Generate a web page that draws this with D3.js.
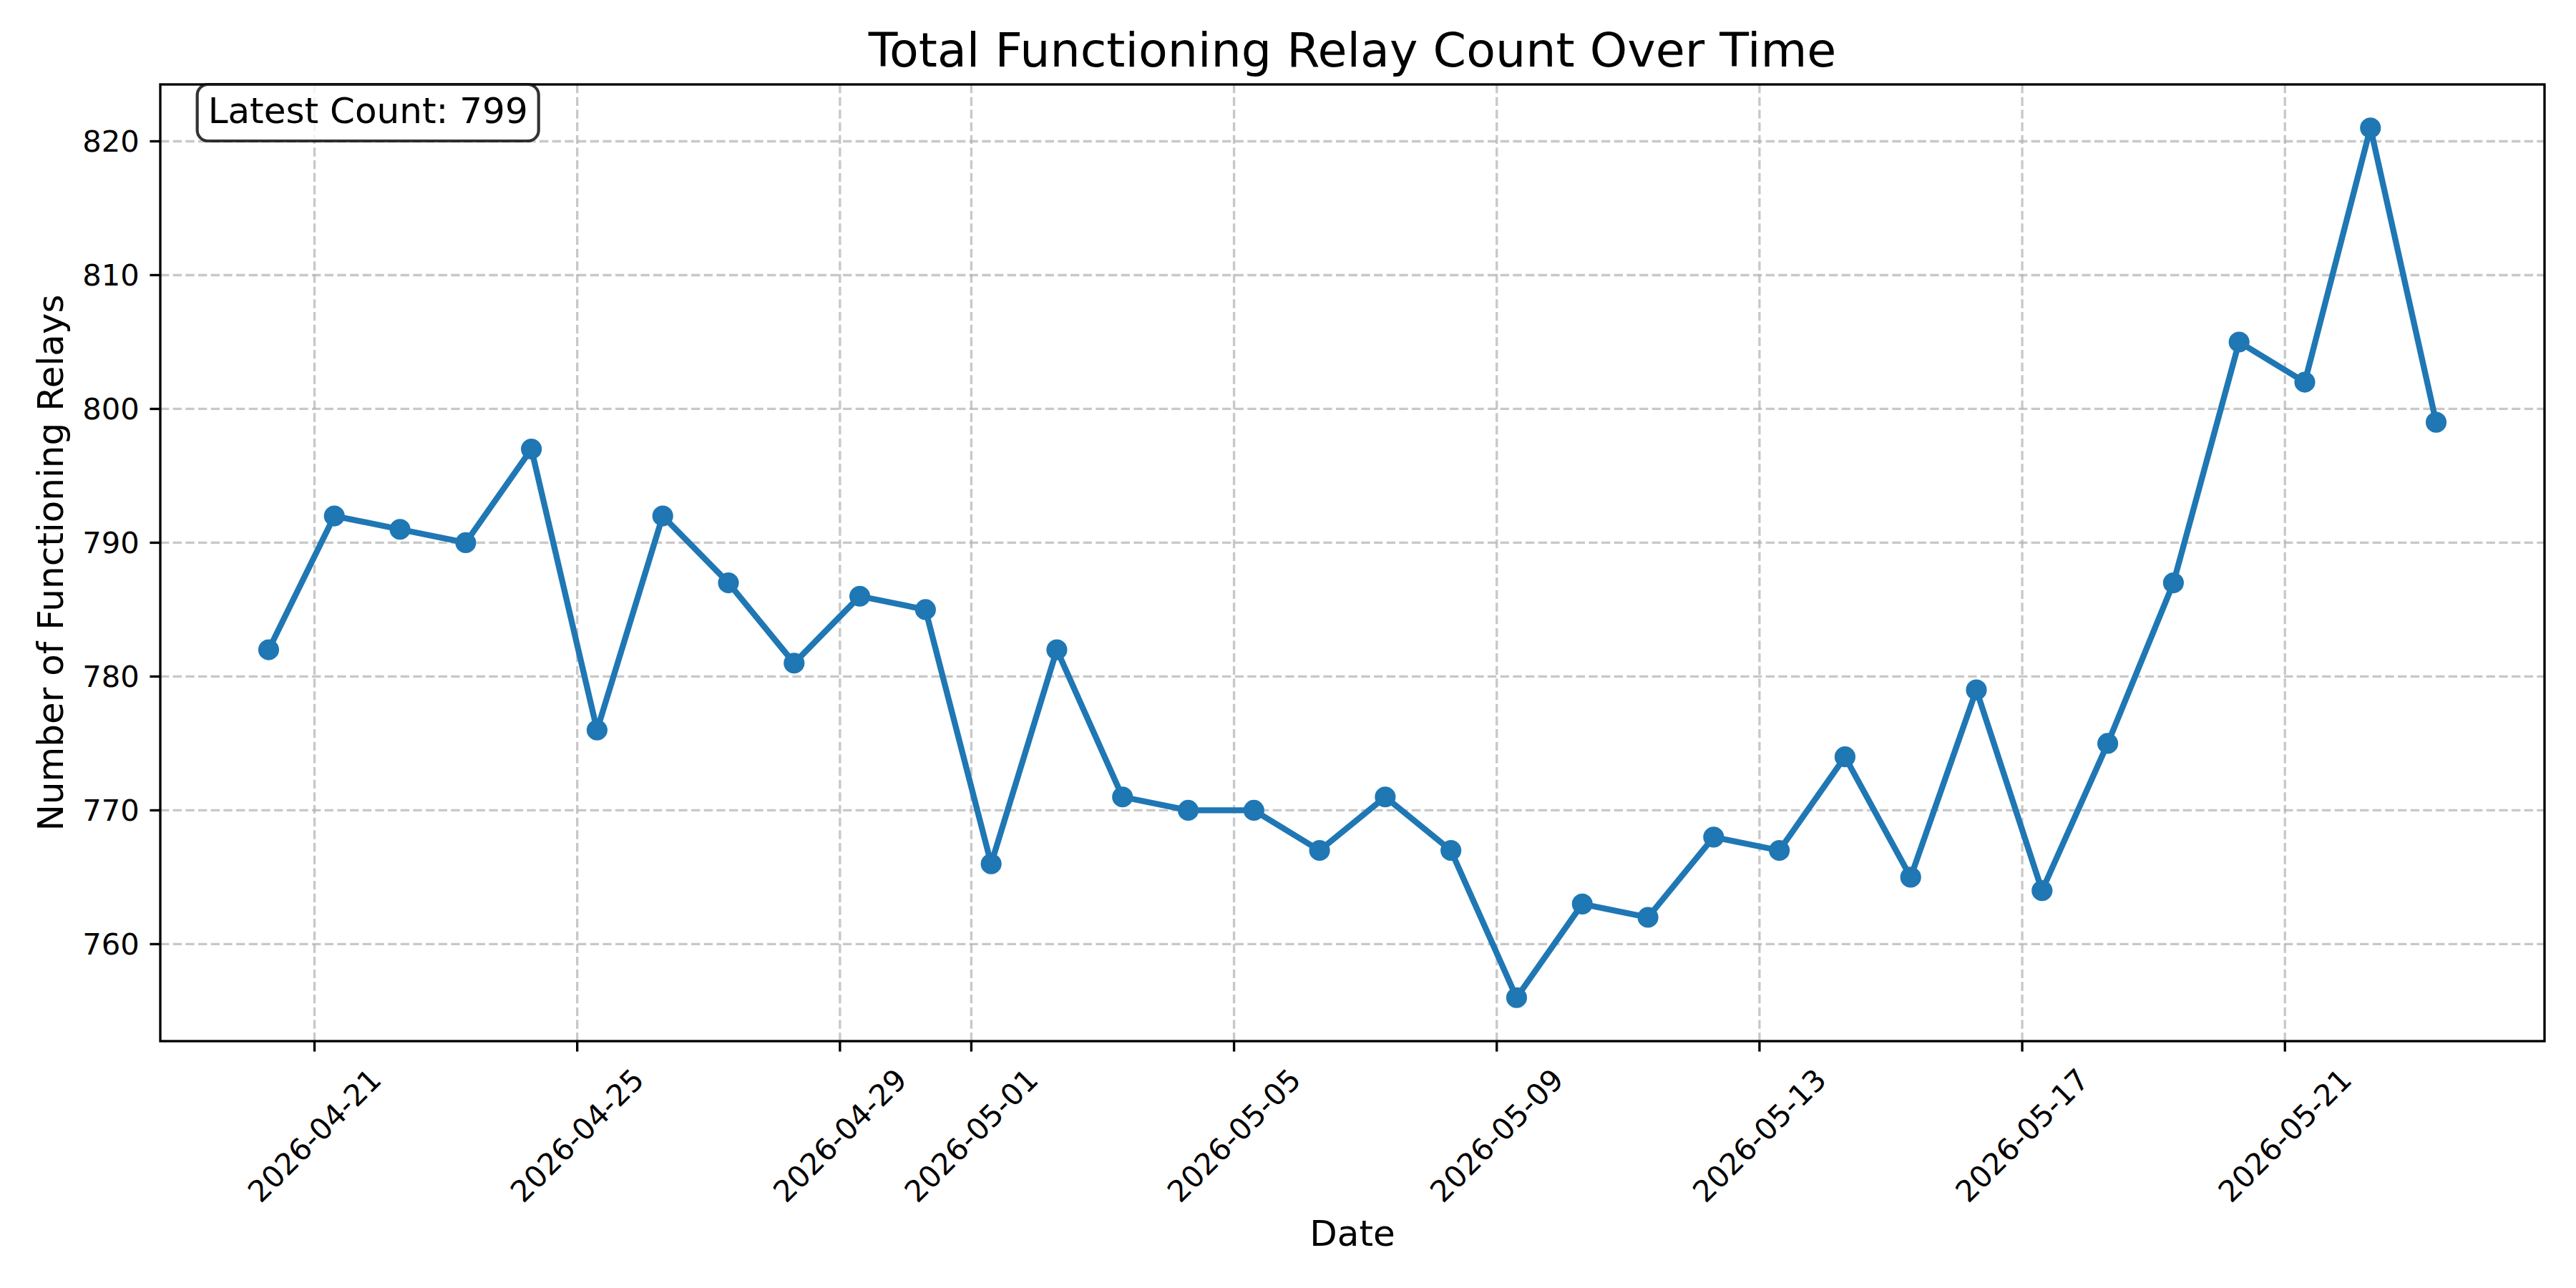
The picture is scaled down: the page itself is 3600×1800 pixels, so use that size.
<!DOCTYPE html>
<html>
<head>
<meta charset="utf-8">
<script src="https://cdn.jsdelivr.net/npm/d3@7"></script>
<style>
    body { margin: 0; background: #fff; }
    text { font-family: "DejaVu Sans", sans-serif; fill: #000; }
</style>
</head>
<body>
<div id="main"></div>
<script>
// readings, one point per day
const sampleTimes = [
    "2026-04-20 07:15", "2026-04-21 07:15", "2026-04-22 07:15", "2026-04-23 07:15", "2026-04-24 07:15",
    "2026-04-25 07:15", "2026-04-26 07:15", "2026-04-27 07:15", "2026-04-28 07:15", "2026-04-29 07:15",
    "2026-04-30 07:15", "2026-05-01 07:15", "2026-05-02 07:15", "2026-05-03 07:15", "2026-05-04 07:15",
    "2026-05-05 07:15", "2026-05-06 07:15", "2026-05-07 07:15", "2026-05-08 07:15", "2026-05-09 07:15",
    "2026-05-10 07:15", "2026-05-11 07:15", "2026-05-12 07:15", "2026-05-13 07:15", "2026-05-14 07:15",
    "2026-05-15 07:15", "2026-05-16 07:15", "2026-05-17 07:15", "2026-05-18 07:15", "2026-05-19 07:15",
    "2026-05-20 07:15", "2026-05-21 07:15", "2026-05-22 07:15", "2026-05-23 07:15"
];
const relayCounts = [
    782, 792, 791, 790, 797, 776, 792, 787, 781, 786,
    785, 766, 782, 771, 770, 770, 767, 771, 767, 756,
    763, 762, 768, 767, 774, 765, 779, 764, 775, 787,
    805, 802, 821, 799
];
const dateTicks = ["2026-04-21", "2026-04-25", "2026-04-29", "2026-05-01", "2026-05-05",
    "2026-05-09", "2026-05-13", "2026-05-17", "2026-05-21"];
const countTicks = [760, 770, 780, 790, 800, 810, 820];

const PT = 300 / 72;   // figure was saved at 300 dpi
const ctx = {
    w: 3600,
    h: 1800,
    left: 224,
    right: 3556,
    top: 118,
    bottom: 1455,
    BLUE: "#1f77b4",
    GRID: "#b0b0b0",
    tickLen: 3.5 * PT,
    tickPad: 3.5 * PT,
    tickFont: 10 * PT,
    labelFont: 12 * PT,
    titleFont: 16 * PT,
    parseTime: d3.timeParse("%Y-%m-%d %H:%M"),
    parseDay: d3.timeParse("%Y-%m-%d"),
};

function createViz() {
    let svgEl = d3.select("#main").append("svg")
        .attr("width", ctx.w)
        .attr("height", ctx.h);
    svgEl.append("rect").attr("width", ctx.w).attr("height", ctx.h).attr("fill", "#fff");

    let points = sampleTimes.map((t, i) => ({ date: ctx.parseTime(t), value: relayCounts[i] }));

    // matplotlib style 5% margins
    let tExt = d3.extent(points, (d) => d.date);
    let tPad = (tExt[1] - tExt[0]) * 0.05;
    let vExt = d3.extent(points, (d) => d.value);
    let vPad = (vExt[1] - vExt[0]) * 0.05;

    let x = d3.scaleTime()
        .domain([new Date(+tExt[0] - tPad), new Date(+tExt[1] + tPad)])
        .range([ctx.left, ctx.right]);
    let y = d3.scaleLinear()
        .domain([vExt[0] - vPad, vExt[1] + vPad])
        .range([ctx.bottom, ctx.top]);

    let xTicks = dateTicks.map((d) => ctx.parseDay(d));
    let fmt = d3.timeFormat("%Y-%m-%d");

    // grid
    let gridG = svgEl.append("g")
        .attr("stroke", ctx.GRID)
        .attr("stroke-opacity", 0.7)
        .attr("stroke-width", 0.8 * PT)
        .attr("stroke-dasharray", `${2.96 * PT},${1.28 * PT}`);
    gridG.selectAll(".vgrid")
        .data(xTicks)
        .enter()
        .append("line")
        .attr("x1", (d) => x(d))
        .attr("x2", (d) => x(d))
        .attr("y1", ctx.top)
        .attr("y2", ctx.bottom);
    gridG.selectAll(".hgrid")
        .data(countTicks)
        .enter()
        .append("line")
        .attr("x1", ctx.left)
        .attr("x2", ctx.right)
        .attr("y1", (d) => y(d))
        .attr("y2", (d) => y(d));

    // series
    let line = d3.line().x((d) => x(d.date)).y((d) => y(d.value));
    svgEl.append("path")
        .datum(points)
        .attr("d", line)
        .attr("fill", "none")
        .attr("stroke", ctx.BLUE)
        .attr("stroke-width", 2 * PT)
        .attr("stroke-linejoin", "round");
    svgEl.append("g")
        .selectAll("circle")
        .data(points)
        .enter()
        .append("circle")
        .attr("cx", (d) => x(d.date))
        .attr("cy", (d) => y(d.value))
        .attr("r", 3 * PT)
        .attr("fill", ctx.BLUE)
        .attr("stroke", ctx.BLUE)
        .attr("stroke-width", 1 * PT);

    // frame
    svgEl.append("rect")
        .attr("x", ctx.left)
        .attr("y", ctx.top)
        .attr("width", ctx.right - ctx.left)
        .attr("height", ctx.bottom - ctx.top)
        .attr("fill", "none")
        .attr("stroke", "#000")
        .attr("stroke-width", 0.8 * PT);

    // y axis ticks
    let yG = svgEl.append("g");
    yG.selectAll("line")
        .data(countTicks)
        .enter()
        .append("line")
        .attr("x1", ctx.left - ctx.tickLen)
        .attr("x2", ctx.left)
        .attr("y1", (d) => y(d))
        .attr("y2", (d) => y(d))
        .attr("stroke", "#000")
        .attr("stroke-width", 0.8 * PT);
    yG.selectAll("text")
        .data(countTicks)
        .enter()
        .append("text")
        .attr("x", ctx.left - ctx.tickLen - ctx.tickPad)
        .attr("y", (d) => y(d))
        .attr("text-anchor", "end")
        .attr("dominant-baseline", "central")
        .style("font-size", ctx.tickFont + "px")
        .text((d) => d);

    // x axis ticks, labels rotated 45 and centred on the tick
    let xG = svgEl.append("g");
    xG.selectAll("line")
        .data(xTicks)
        .enter()
        .append("line")
        .attr("x1", (d) => x(d))
        .attr("x2", (d) => x(d))
        .attr("y1", ctx.bottom)
        .attr("y2", ctx.bottom + ctx.tickLen)
        .attr("stroke", "#000")
        .attr("stroke-width", 0.8 * PT);
    let labelTop = ctx.bottom + ctx.tickLen + ctx.tickPad;
    let maxBottom = labelTop;
    xG.selectAll("text")
        .data(xTicks)
        .enter()
        .append("text")
        .attr("text-anchor", "middle")
        .attr("dominant-baseline", "central")
        .style("font-size", ctx.tickFont + "px")
        .text((d) => fmt(d))
        .each(function (d) {
            let w = this.getComputedTextLength();
            let half = (w + 1.164 * ctx.tickFont) * Math.SQRT1_2 / 2;
            let cx = x(d), cy = labelTop + half;
            maxBottom = Math.max(maxBottom, cy + half);
            d3.select(this)
                .attr("x", cx)
                .attr("y", cy)
                .attr("transform", `rotate(-45,${cx},${cy})`);
        });

    // axis titles
    svgEl.append("text")
        .attr("x", (ctx.left + ctx.right) / 2)
        .attr("y", maxBottom + 4 * PT + 0.69 * ctx.labelFont)
        .attr("text-anchor", "middle")
        .style("font-size", ctx.labelFont + "px")
        .text("Date");
    svgEl.append("text")
        .attr("transform", `translate(88,${(ctx.top + ctx.bottom) / 2}) rotate(-90)`)
        .attr("text-anchor", "middle")
        .style("font-size", ctx.labelFont + "px")
        .text("Number of Functioning Relays");
    svgEl.append("text")
        .attr("x", (ctx.left + ctx.right) / 2)
        .attr("y", ctx.top - 6 * PT)
        .attr("text-anchor", "middle")
        .style("font-size", ctx.titleFont + "px")
        .text("Total Functioning Relay Count Over Time");

    // latest value box in the top left corner
    let boxG = svgEl.append("g");
    let tx = ctx.left + 0.02 * (ctx.right - ctx.left);
    let baseY = 172;
    let latest = boxG.append("text")
        .attr("x", tx)
        .attr("y", baseY)
        .style("font-size", ctx.labelFont + "px")
        .text(`Latest Count: ${relayCounts[relayCounts.length - 1]}`);
    let tw = latest.node().getComputedTextLength();
    boxG.insert("rect", "text")
        .attr("x", tx - 15)
        .attr("y", ctx.top)
        .attr("width", tw + 30)
        .attr("height", 79)
        .attr("rx", 15)
        .attr("ry", 15)
        .attr("fill", "#fff")
        .attr("fill-opacity", 0.8)
        .attr("stroke", "#000")
        .attr("stroke-opacity", 0.8)
        .attr("stroke-width", 1 * PT);
}

createViz();
</script>
</body>
</html>
